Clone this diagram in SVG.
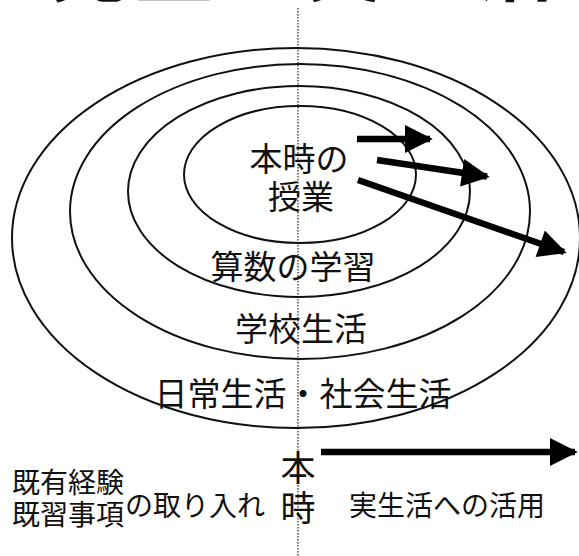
<svg xmlns="http://www.w3.org/2000/svg" width="579" height="556" viewBox="0 0 579 556">
<style>
text{font-family:"Noto Sans CJK JP","Noto Sans",sans-serif;fill:#111;}
.ring{fill:none;stroke:#111;stroke-width:2;}
.lbl{font-size:33px;text-anchor:middle;}
.sm{font-size:28px;}
.arr{stroke:#000;stroke-width:6.5;fill:none;}
</style>
<defs>
<marker id="ah" viewBox="0 0 10 10" refX="9" refY="5" markerWidth="4.4" markerHeight="4.3" markerUnits="strokeWidth" orient="auto">
<path d="M0,0 L10,5 L0,10 Z" fill="#000"/>
</marker>
</defs>
<text x="50" y="-5" style="font-size:78px;letter-spacing:7px;font-weight:700;">児童の実生活</text>
<line x1="298" y1="8" x2="298" y2="556" stroke="#333" stroke-width="1.3" stroke-dasharray="1.5 1.5"/>
<g id="ring-daily"><ellipse class="ring" cx="296" cy="238" rx="284" ry="190"/><text class="lbl" x="303" y="406">日常生活・社会生活</text></g>
<g id="ring-school"><ellipse class="ring" cx="300" cy="211.5" rx="230" ry="147.5"/><text class="lbl" x="301" y="341">学校生活</text></g>
<g id="ring-math"><ellipse class="ring" cx="299" cy="191.5" rx="171" ry="105.5"/><text class="lbl" x="293" y="279">算数の学習</text></g>
<g id="ring-lesson"><ellipse class="ring" cx="300" cy="174.5" rx="116" ry="68.5"/><text class="lbl" x="299" y="171">本時の</text><text class="lbl" x="301" y="209">授業</text></g>
<g id="connectors">
<line class="arr" x1="357" y1="139" x2="430" y2="139" marker-end="url(#ah)"/>
<line class="arr" x1="377" y1="160" x2="487" y2="176.5" marker-end="url(#ah)"/>
<line class="arr" x1="358" y1="180" x2="564" y2="252" marker-end="url(#ah)"/>
<line class="arr" x1="321" y1="452" x2="575" y2="452" marker-end="url(#ah)"/>
</g>
<g id="timeline">
<text style="font-size:35px;" x="298" y="481" text-anchor="middle">本</text>
<text style="font-size:35px;" x="298" y="521" text-anchor="middle">時</text>
<text class="sm" x="12" y="493">既有経験</text>
<text class="sm" x="12" y="525">既習事項</text>
<text class="sm" x="125" y="516">の取り入れ</text>
<text class="sm" x="349" y="516">実生活への活用</text>
</g>
</svg>
